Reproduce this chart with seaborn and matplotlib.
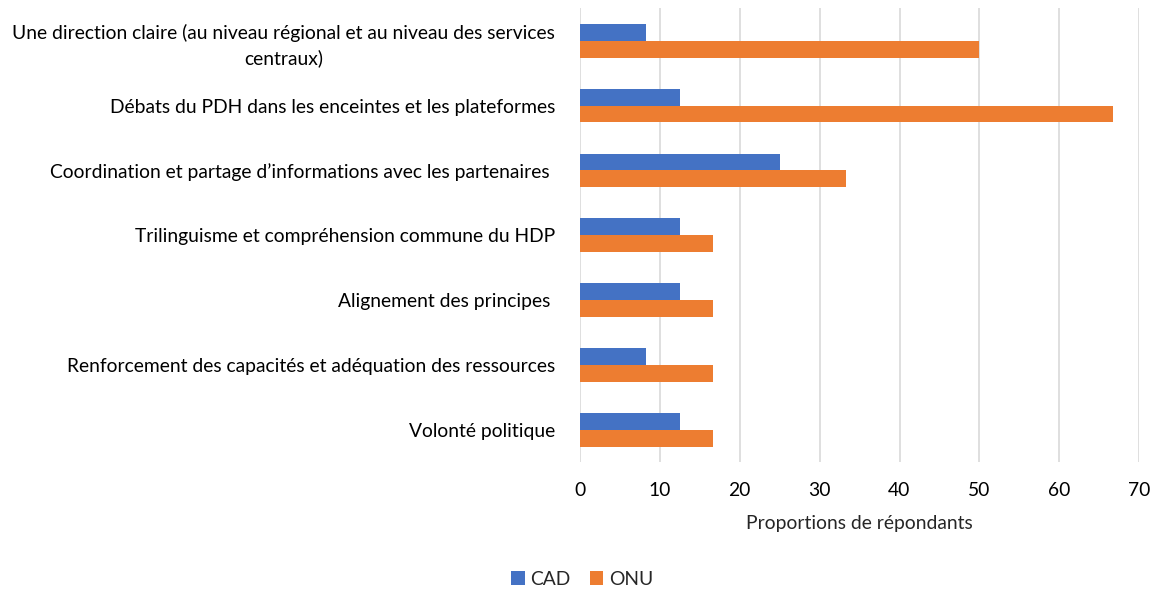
import pandas as pd
import matplotlib.pyplot as plt
import seaborn as sns

# Données
categories = [
    "Une direction claire (au niveau régional et au niveau des services\ncentraux)",
    "Débats du PDH dans les enceintes et les plateformes",
    "Coordination et partage d\u2019informations avec les partenaires ",
    "Trilinguisme et compréhension commune du HDP",
    "Alignement des principes ",
    "Renforcement des capacités et adéquation des ressources",
    "Volonté politique",
]
cad = [8.3, 12.5, 25.0, 12.5, 12.5, 8.3, 12.5]
onu = [50.0, 66.7, 33.3, 16.7, 16.7, 16.7, 16.7]
series = ["CAD", "ONU"]
xticks = [0, 10, 20, 30, 40, 50, 60, 70]

df = pd.DataFrame({
    "categorie": categories * 2,
    "valeur": cad + onu,
    "groupe": ["CAD"] * len(cad) + ["ONU"] * len(onu),
})

sns.set_style("white")
plt.rcParams['font.family'] = ['Lato', 'DejaVu Sans']
fs = 13.9

fig = plt.figure(figsize=(11.53, 5.91), dpi=100)
ax = fig.add_axes([0.503, 0.218, 0.485, 0.768])

sns.barplot(data=df, y="categorie", x="valeur", hue="groupe", order=categories,
            hue_order=series, palette=["#4472C4", "#ED7D31"], orient="h",
            width=0.52, saturation=1, linewidth=0, ax=ax)

ax.set_xlim(0, 70)
ax.set_xticks(xticks)
ax.xaxis.grid(True, color="#D9D9D9", linewidth=1.2)
ax.set_axisbelow(True)
for s in ax.spines.values():
    s.set_visible(False)
ax.tick_params(axis="both", length=0, labelsize=fs, colors="#000000")
ax.tick_params(axis="y", pad=18)
ax.tick_params(axis="x", pad=14)
for lbl in ax.get_yticklabels():
    lbl.set_multialignment("center")
    lbl.set_linespacing(1.5)
ax.set_ylabel("")
ax.set_xlabel("Proportions de répondants", fontsize=fs, labelpad=12)

handles, labels = ax.get_legend_handles_labels()
ax.legend_.remove()
fig.legend(handles, labels, loc="center", bbox_to_anchor=(0.505, 0.02), ncol=2,
           frameon=False, fontsize=fs, handlelength=0.7, handleheight=0.7,
           handletextpad=0.3, columnspacing=1.0)

fig.savefig("out.png", dpi=100)
